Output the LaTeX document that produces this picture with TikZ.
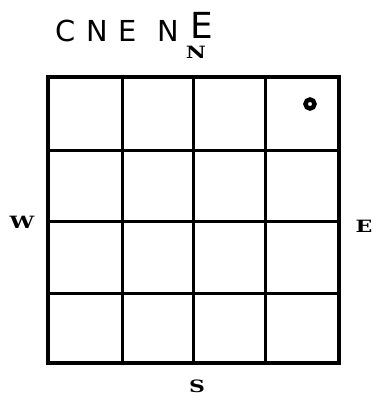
\documentclass[tikz,border=0pt]{standalone}
\usepackage{fontspec}
\newfontfamily\handfont[LetterSpace=38]{DejaVu Sans}
\newfontfamily\compassfont[FakeStretch=1.3]{DejaVu Serif}
\usetikzlibrary{positioning}

\begin{document}
\begin{tikzpicture}[
    x=1bp, y=-1bp,
    frame/.style={line width=4.5bp, line join=miter},
    cell/.style={line width=3bp},
    compass/.style={font=\compassfont\bfseries\fontsize{17}{17}\selectfont, inner sep=0pt},
    hand/.style={font=\handfont\fontsize{29}{29}\selectfont, inner sep=0pt},
    marker/.style={circle, draw, line width=4.5bp, minimum size=9bp, inner sep=0pt}
]
\useasboundingbox (0,0) rectangle (385,402);

% ===== GRID =====
\coordinate (sw) at (48,363);
\coordinate (ne) at (339,77);
\foreach \x in {122,193,265} {
    \draw[cell] (\x,77) -- (\x,363);
}
\foreach \y in {150,221,293} {
    \draw[cell] (48,\y) -- (339,\y);
}
\draw[frame] (sw) rectangle (ne);

% ===== MARKER =====
\node[marker] (dot) at (310,104) {};

% ===== COMPASS =====
\node[compass] (north) at (196,52) {N};
\node[compass] (west) at (22,222) {W};
\node[compass] (east) at (364,226) {E};
\node[compass] (south) at (197,386) {S};

% ===== HANDWRITTEN NOTE =====
\node[hand, anchor=west] (note) at (55,27) {CNE N\hspace{12bp}\raisebox{3bp}{\fontsize{36}{36}\selectfont E}};

\end{tikzpicture}
\end{document}
